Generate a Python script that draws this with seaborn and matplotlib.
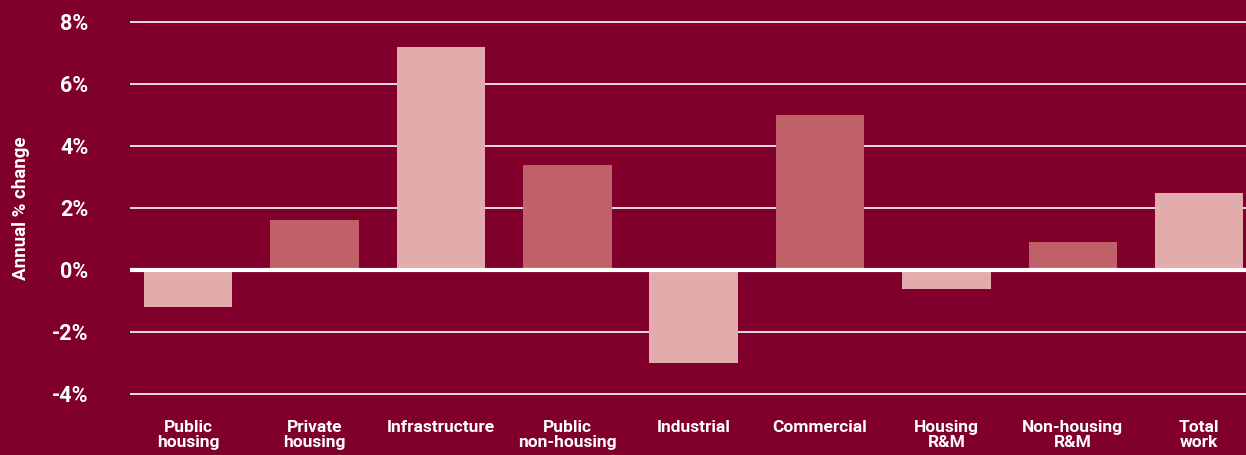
import matplotlib
matplotlib.use("Agg")
import matplotlib.pyplot as plt
import seaborn as sns
import pandas as pd

categories = ["Public\nhousing", "Private\nhousing", "Infrastructure", "Public\nnon-housing",
              "Industrial", "Commercial", "Housing\nR&M", "Non-housing\nR&M", "Total\nwork"]
values = [-1.2, 1.6, 7.2, 3.4, -3.0, 5.0, -0.6, 0.9, 2.5]
y_ticks = [-4, -2, 0, 2, 4, 6, 8]

bg = "#81002B"
light = "#E2ABAC"
mid = "#C0616A"
bar_colors = [light, mid, light, mid, light, mid, light, mid, light]

sns.set_style("white")
plt.rcParams["font.family"] = ["Roboto", "DejaVu Sans"]

df = pd.DataFrame({"category": categories, "change": values})

fig = plt.figure(figsize=(12.46, 4.55), dpi=100, facecolor=bg)
ax = fig.add_axes([130 / 1246, (455 - 400.2) / 455, 1116 / 1246, 384.4 / 455])
ax.set_facecolor(bg)

sns.barplot(data=df, x="category", y="change", hue="category", palette=bar_colors,
            legend=False, width=0.7, saturation=1, linewidth=0, ax=ax, zorder=3)

ax.set_xlim(-0.46, 8.37)
ax.set_ylim(-4.2, 8.2)
ax.set_yticks(y_ticks)
ax.set_yticklabels([f"{t}%" for t in y_ticks])
for t in y_ticks:
    if t != 0:
        ax.axhline(t, color="white", lw=1.2, zorder=1)
ax.axhline(0, color="white", lw=3, zorder=4)

for s in ax.spines.values():
    s.set_visible(False)
ax.tick_params(axis="y", length=0, pad=30, labelsize=15.5, labelcolor="white")
ax.tick_params(axis="x", length=0, pad=14, labelsize=12.5, labelcolor="white")
for lab in ax.get_yticklabels() + ax.get_xticklabels():
    lab.set_fontweight("bold")
for lab in ax.get_xticklabels():
    lab.set_linespacing(1.0)
    lab.set_verticalalignment("top")

ax.set_xlabel("")
ax.set_ylabel("Annual % change", color="white", fontsize=13.5, fontweight="bold", labelpad=16)

fig.savefig("out.png", dpi=100, facecolor=bg)
